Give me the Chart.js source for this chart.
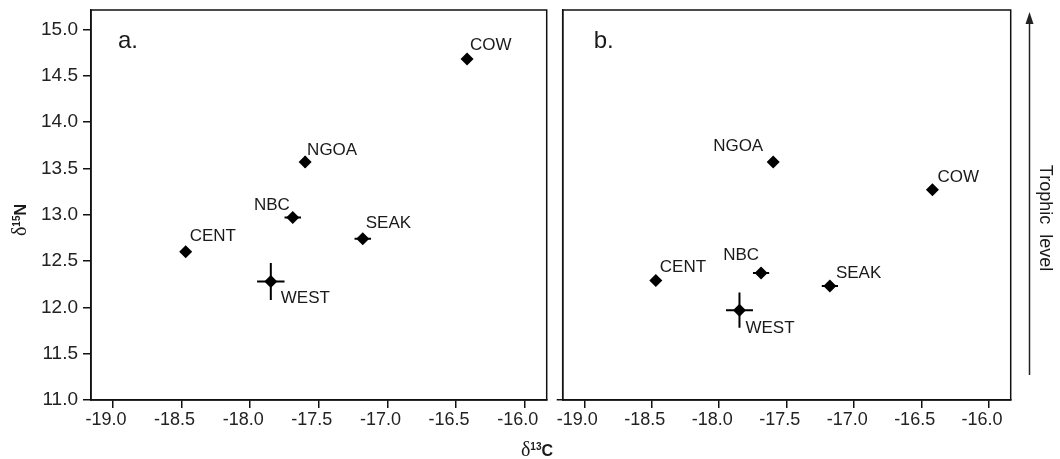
<!DOCTYPE html>
<html>
<head>
<meta charset="utf-8">
<script src="https://cdn.jsdelivr.net/npm/chart.js@4"></script>
<style>
  html, body { margin: 0; padding: 0; background: #fff; }
  #wrap { position: relative; width: 1060px; height: 459px; overflow: hidden; }
  #chart-a { position: absolute; left: 0; top: 0; }
  #chart-b { position: absolute; left: 550px; top: 0; }
</style>
</head>
<body>
<div id="wrap">
  <canvas id="chart-a" width="560" height="459"></canvas>
  <canvas id="chart-b" width="510" height="459"></canvas>
</div>
<script>
// sites and isotope means
const sites = ['COW', 'NGOA', 'NBC', 'SEAK', 'CENT', 'WEST'];
const d13C = [-16.42, -17.60, -17.69, -17.18, -18.47, -17.85];
const d15N_a = [14.68, 13.57, 12.97, 12.74, 12.60, 12.28];
const d15N_b = [13.27, 13.57, 12.37, 12.23, 12.29, 11.97];

// error bar half-widths
const errC_a = [0.03, 0.03, 0.06, 0.06, 0.02, 0.10];
const errN_a = [0.05, 0.06, 0.05, 0.03, 0.05, 0.20];
const errC_b = [0.03, 0.03, 0.06, 0.06, 0.02, 0.10];
const errN_b = [0.04, 0.05, 0.04, 0.03, 0.05, 0.19];

const xTickMin = -19.16, xTickMax = -15.84;
const yTickMin = 11.0, yTickMax = 15.21;

// label placement per site: [dx, dy, align]
const labelPos_a = [[3, -14, 'left'], [2, -12, 'left'], [-3, -12, 'right'], [3, -15, 'left'], [4, -15, 'left'], [10, 17, 'left']];
const labelPos_b = [[5, -12, 'left'], [-10, -16, 'right'], [-2, -18, 'right'], [6, -13, 'left'], [4, -13, 'left'], [6, 18, 'left']];

const FONT = "'Liberation Sans', Arial, sans-serif";
const INK = '#111';

function drawDelta(ctx, iso, el, size) {
    // δ + superscript + element, centred on 0, baseline at 0
    const big = `${Math.round(size * 1.25)}px 'Liberation Serif', serif`;
    const sup = `bold ${Math.round(size * 0.62)}px ${FONT}`;
    const elf = `bold ${size}px ${FONT}`;
    ctx.font = big; const w1 = ctx.measureText('\u03b4').width;
    ctx.font = sup; const w2 = ctx.measureText(iso).width;
    ctx.font = elf; const w3 = ctx.measureText(el).width;
    let x = -(w1 + w2 + w3) / 2;
    ctx.textAlign = 'left';
    ctx.textBaseline = 'alphabetic';
    ctx.font = big; ctx.fillText('\u03b4', x, 0); x += w1;
    ctx.font = sup; ctx.fillText(iso, x, -size * 0.38); x += w2;
    ctx.font = elf; ctx.fillText(el, x, 0);
}

const framePlugin = {
    id: 'frame',
    afterDraw(chart) {
        const { ctx, chartArea: a } = chart;
        ctx.save();
        ctx.strokeStyle = INK;
        ctx.lineWidth = 1.5;
        ctx.strokeRect(a.left, a.top, a.right - a.left, a.bottom - a.top);
        ctx.restore();
    }
};

const errorBarPlugin = {
    id: 'errorBars',
    beforeDatasetsDraw(chart) {
        const { ctx, scales: { x, y } } = chart;
        const o = chart.options.plugins.errorBars;
        ctx.save();
        ctx.strokeStyle = '#000';
        ctx.lineWidth = 2;
        chart.data.datasets[0].data.forEach((p, i) => {
            const px = x.getPixelForValue(p.x), py = y.getPixelForValue(p.y);
            ctx.beginPath();
            ctx.moveTo(x.getPixelForValue(p.x - o.ex[i]), py);
            ctx.lineTo(x.getPixelForValue(p.x + o.ex[i]), py);
            ctx.moveTo(px, y.getPixelForValue(p.y - o.ey[i]));
            ctx.lineTo(px, y.getPixelForValue(p.y + o.ey[i]));
            ctx.stroke();
        });
        ctx.restore();
    }
};

const siteLabelPlugin = {
    id: 'siteLabels',
    afterDatasetsDraw(chart) {
        const { ctx } = chart;
        const o = chart.options.plugins.siteLabels;
        ctx.save();
        ctx.fillStyle = '#1a1a1a';
        ctx.font = `17px ${FONT}`;
        ctx.textBaseline = 'middle';
        chart.getDatasetMeta(0).data.forEach((pt, i) => {
            const [dx, dy, al] = o.pos[i];
            ctx.textAlign = al;
            ctx.fillText(sites[i], pt.x + dx, pt.y + dy);
        });
        ctx.font = `24px ${FONT}`;
        ctx.textAlign = 'left';
        ctx.textBaseline = 'alphabetic';
        ctx.fillText(o.panel, chart.chartArea.left + o.panelDx, 48);
        ctx.restore();
    }
};

const titlesPlugin = {
    id: 'titles',
    afterDraw(chart) {
        const { ctx } = chart;
        ctx.save();
        ctx.fillStyle = '#1a1a1a';
        ctx.translate(26, 220);
        ctx.rotate(-Math.PI / 2);
        drawDelta(ctx, '15', 'N', 16);
        ctx.restore();
        ctx.save();
        ctx.fillStyle = '#1a1a1a';
        ctx.translate(537, 456);
        drawDelta(ctx, '13', 'C', 16);
        ctx.restore();
    }
};

const trophicPlugin = {
    id: 'trophic',
    afterDraw(chart) {
        const { ctx } = chart;
        const ax = 479.5;
        ctx.save();
        ctx.strokeStyle = '#222';
        ctx.fillStyle = '#222';
        ctx.lineWidth = 1.5;
        ctx.beginPath();
        ctx.moveTo(ax, 375);
        ctx.lineTo(ax, 22);
        ctx.stroke();
        ctx.beginPath();
        ctx.moveTo(ax, 12);
        ctx.lineTo(ax - 4, 24);
        ctx.lineTo(ax + 4, 24);
        ctx.closePath();
        ctx.fill();
        ctx.translate(495, 218);
        ctx.rotate(Math.PI / 2);
        ctx.font = `18px ${FONT}`;
        ctx.textAlign = 'center';
        ctx.textBaseline = 'middle';
        ctx.fillStyle = '#1a1a1a';
        ctx.fillText('Trophic  level', 0, 0);
        ctx.restore();
    }
};

function makePanel(canvas, yVals, ex, ey, pos, panel, cfg) {
    return new Chart(canvas.getContext('2d'), {
        type: 'scatter',
        data: {
            datasets: [{
                data: d13C.map((c, i) => ({ x: c, y: yVals[i] })),
                pointStyle: 'rectRot',
                pointRadius: 6.5,
                pointHoverRadius: 6.5,
                backgroundColor: '#000',
                borderWidth: 0
            }]
        },
        options: {
            responsive: false,
            animation: false,
            events: [],
            layout: { padding: { top: 10, right: cfg.padRight, bottom: 0, left: 0 } },
            plugins: {
                legend: { display: false },
                tooltip: { enabled: false },
                errorBars: { ex, ey },
                siteLabels: { pos, panel, panelDx: cfg.panelDx }
            },
            scales: {
                x: {
                    type: 'linear',
                    min: xTickMin,
                    max: xTickMax,
                    afterFit: s => { s.height = 59; s.paddingLeft = 0; s.paddingRight = 0; },
                    ticks: {
                        stepSize: 0.5,
                        includeBounds: false,
                        autoSkip: false,
                        maxRotation: 0,
                        padding: 1,
                        labelOffset: -7,
                        color: '#222',
                        font: { size: 18, family: FONT },
                        callback: v => v.toFixed(1)
                    },
                    grid: { drawOnChartArea: false, tickLength: 8, color: INK, lineWidth: 1.5 },
                    border: { color: INK, width: 1.5 }
                },
                y: {
                    type: 'linear',
                    min: yTickMin,
                    max: yTickMax,
                    afterFit: s => { s.width = cfg.yWidth; s.paddingTop = 0; s.paddingBottom = 0; },
                    ticks: {
                        display: cfg.yLabels,
                        stepSize: 0.5,
                        includeBounds: false,
                        padding: 5,
                        color: '#222',
                        font: { size: 19, family: FONT },
                        callback: v => v.toFixed(1)
                    },
                    grid: {
                        drawOnChartArea: false,
                        tickLength: cfg.yLabels ? 8 : 6,
                        lineWidth: 1.5,
                        color: c => (cfg.yLabels || (c.tick && c.tick.value === yTickMin)) ? INK : 'rgba(0,0,0,0)'
                    },
                    border: { color: INK, width: 1.5 }
                }
            }
        },
        plugins: cfg.plugins
    });
}

makePanel(document.querySelector('#chart-a'), d15N_a, errC_a, errN_a, labelPos_a, 'a.', {
    padRight: 13.3, yWidth: 91, yLabels: true, panelDx: 27,
    plugins: [framePlugin, errorBarPlugin, siteLabelPlugin, titlesPlugin]
});

makePanel(document.querySelector('#chart-b'), d15N_b, errC_b, errN_b, labelPos_b, 'b.', {
    padRight: 49.3, yWidth: 12.7, yLabels: false, panelDx: 31,
    plugins: [framePlugin, errorBarPlugin, siteLabelPlugin, trophicPlugin]
});
</script>
</body>
</html>
